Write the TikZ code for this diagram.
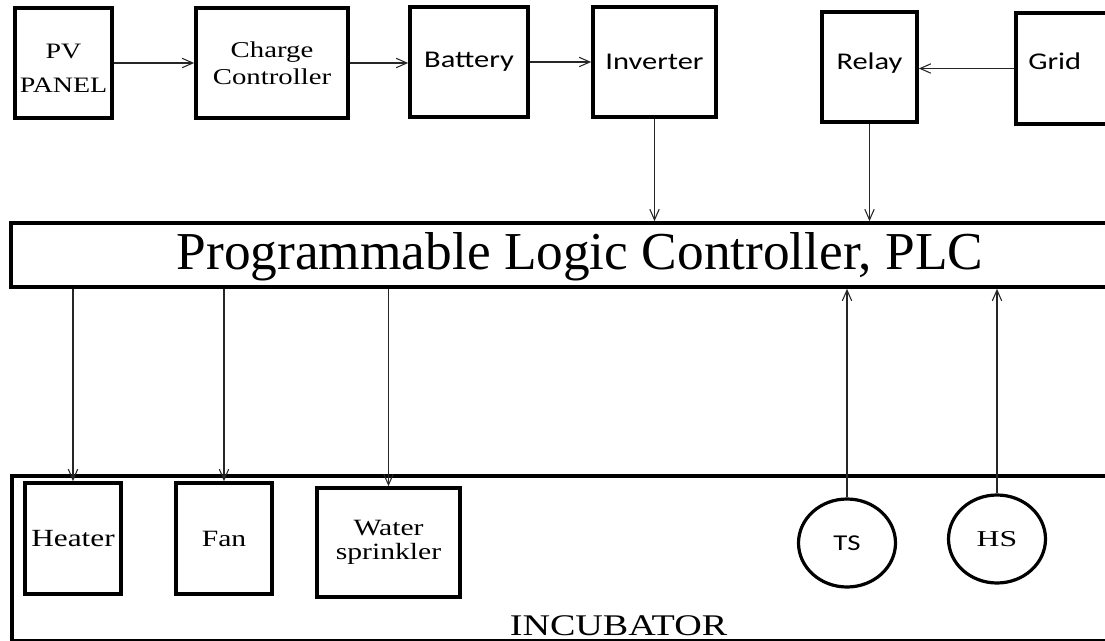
\documentclass[tikz,border=0pt]{standalone}
\usepackage{fontspec}
\usepackage{graphicx}
\setmainfont{Liberation Serif}
\newfontfamily\calib{Carlito}
\usetikzlibrary{arrows.meta,shapes.geometric}
\newcommand\xs[1]{\scalebox{1.27}[1]{#1}}
\begin{document}
\begin{tikzpicture}[x=0.75pt,y=-0.75pt,
  box/.style={draw, line width=2.7pt, rectangle, inner sep=0pt, align=center},
  arr/.style={draw=black!85, line width=0.9pt, -{Straight Barb[length=8pt,width=7pt,line width=0.8pt]}},
  sensor/.style={draw, ellipse, line width=2.4pt, minimum width=72.75pt, minimum height=66pt, inner sep=0pt},
  sansL/.style={font=\calib\fontsize{18}{22}\selectfont}]
\clip (0,0) rectangle (1105,641);
\fill[white] (0,0) rectangle (1105,641);
% top row
\node[box, minimum width=72.75pt, minimum height=82.5pt] (pv) at (63.5,63) {};
\node[font=\fontsize{16.5}{26}\selectfont, align=center, inner sep=0pt] (pvtext) at ([yshift=-4pt]pv.center) {\xs{PV}\\\xs{PANEL}};
\node[box, font=\fontsize{17}{20}\selectfont, minimum width=114pt, minimum height=82.5pt] (cc) at (272,63) {\xs{Charge}\\\xs{Controller}};
\node[box, sansL, minimum width=88.5pt, minimum height=82.5pt] (bat) at (469,62) {\xs{Battery}};
\node[box, sansL, minimum width=92.25pt, minimum height=82.5pt] (inv) at (654.5,62) {\xs{Inverter}};
\node[box, minimum width=71.25pt, minimum height=82.5pt] (relay) at (869.5,67) {};
\node[sansL, inner sep=0pt] (relaytext) at ([yshift=3pt]relay.center) {\xs{Relay}};
\node[box, minimum width=78pt, minimum height=83.25pt] (grid) at (1068,68.5) {};
\node[sansL, anchor=base west, inner sep=0pt] (gridtext) at (1028,70) {\xs{Grid}};
% PLC
\node[box, minimum width=831.75pt, minimum height=48pt] (plc) at (565.5,255) {};
\node[font=\fontsize{40}{40}\selectfont, anchor=base, inner sep=0pt] (plctext) at (580,270) {Programmable Logic Controller, PLC};
% incubator
\node[box, minimum width=831pt, minimum height=123.75pt] (inc) at (566,558.5) {};
\node[font=\fontsize{22.5}{24}\selectfont, anchor=base, inner sep=0pt] (inctext) at (618.5,635) {\xs{INCUBATOR}};
\node[box, font=\fontsize{18.5}{22}\selectfont, minimum width=72pt, minimum height=83.25pt] (heater) at (73,538.5) {\xs{Heater}};
\node[box, font=\fontsize{17.5}{22}\selectfont, minimum width=72pt, minimum height=83.25pt] (fan) at (224,538.5) {\xs{Fan}};
\node[box, font=\fontsize{17.5}{17.5}\selectfont, minimum width=107.25pt, minimum height=81.75pt] (ws) at (388.5,542.5) {\xs{Water}\\\xs{sprinkler}};
\node[sensor, font=\calib\fontsize{17}{18}\selectfont] (ts) at (847,543) {\xs{TS}};
\node[sensor, font=\fontsize{17}{18}\selectfont] (hs) at (997,539) {\scalebox{1.4}[1]{HS}};
% connectors
\draw[arr] (pv.east) -- (pv.east -| cc.west);
\draw[arr] (cc.east) -- (cc.east -| bat.west);
\draw[arr] (bat.east) -- (bat.east -| inv.west);
\draw[arr] (grid.west) -- (grid.west -| relay.east);
\draw[arr] (inv.south) -- (inv.south |- plc.north);
\draw[arr] (relay.south) -- (relay.south |- plc.north);
\draw[arr] (heater.north |- plc.south) -- (heater.north);
\draw[arr] (fan.north |- plc.south) -- (fan.north);
\draw[arr] (ws.north |- plc.south) -- (ws.north);
\draw[arr] (ts.north) -- (ts.north |- plc.south);
\draw[arr] (hs.north) -- (hs.north |- plc.south);
\end{tikzpicture}
\end{document}
